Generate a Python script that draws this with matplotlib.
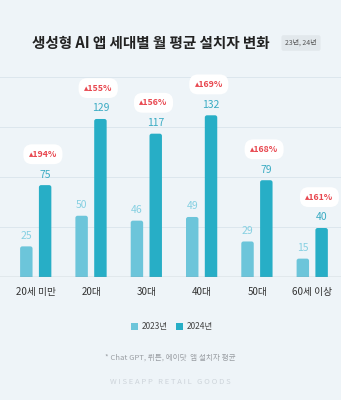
import matplotlib.pyplot as plt
from matplotlib.patches import FancyBboxPatch

plt.rcParams['font.family'] = ['Noto Sans CJK KR', 'DejaVu Sans']

ages = ['20세 미만', '20대', '30대', '40대', '50대', '60세 이상']
y2023 = [25, 50, 46, 49, 29, 15]
y2024 = [75, 129, 117, 132, 79, 40]
growth = ['194%', '155%', '156%', '169%', '168%', '161%']

BG = '#eef4f8'
C23 = '#6cc5da'
C24 = '#27aec6'
RED = '#e8474f'


def rounded_bar(ax, x, h, w, color):
    # a bar with softly rounded top corners; the bottom is pushed under the axis
    px_x = 55.3
    px_y = 1.225
    p = FancyBboxPatch((x - w / 2, -5), w, h + 5,
                       boxstyle='round,pad=0,rounding_size=%f' % (2.2 / px_x),
                       mutation_aspect=px_x / px_y,
                       fc=color, ec='none', zorder=3)
    ax.add_patch(p)


fig = plt.figure(figsize=(3.41, 4.0), dpi=100)
fig.patch.set_facecolor(BG)
ax = fig.add_axes([0, (400 - 277) / 400, 1, 200 / 400])
ax.set_facecolor(BG)

ymax = 200 / 1.225
ax.set_ylim(0, ymax)
ax.set_xlim(-36 / 55.3, (341 - 36) / 55.3)
for k in range(1, 5):
    ax.axhline(ymax * k / 4, color='#dce6ed', lw=0.7, zorder=1)
ax.axhline(0, color='#8c959c', lw=0.9, zorder=4)

w = 0.225
for i in range(len(ages)):
    x23 = i - 0.175
    x24 = i + 0.165
    rounded_bar(ax, x23, y2023[i], w, C23)
    rounded_bar(ax, x24, y2024[i], w, C24)
    ax.annotate(str(y2023[i]), (x23, y2023[i]), xytext=(0, 4), textcoords='offset points',
                ha='center', va='bottom', fontsize=7.5, color='#86d0e2')
    ax.annotate(str(y2024[i]), (x24, y2024[i]), xytext=(0, 4), textcoords='offset points',
                ha='center', va='bottom', fontsize=7.5, color='#3aabc3')
    ax.annotate('▴' + growth[i], (x24 - 0.04, y2024[i]), xytext=(0, 19), textcoords='offset points',
                ha='center', va='bottom', fontsize=6.3, color=RED, fontweight='bold',
                bbox=dict(boxstyle='round,pad=0.62,rounding_size=1.0', fc='white', ec='none'),
                zorder=5)
    ax.text(i, -8, ages[i], ha='center', va='top', fontsize=7, color='#333333')

ax.axis('off')

fig.text(151 / 341, 1 - 43 / 400, '생성형 AI 앱 세대별 월 평균 설치자 변화', ha='center', va='center',
         fontsize=10.5, fontweight='bold', color='#222222')
fig.text(301 / 341, 1 - 43 / 400, '23년, 24년', ha='center', va='center', fontsize=5,
         color='#555555',
         bbox=dict(boxstyle='round,pad=0.55,rounding_size=0.3', fc='#e2e8ec', ec='none'))

# legend
ly = 1 - 326 / 400
fig.patches.append(FancyBboxPatch((131 / 341, ly - 3.5 / 400), 7 / 341, 7 / 400,
                                  boxstyle='square,pad=0', fc=C23, ec='none',
                                  transform=fig.transFigure, figure=fig))
fig.text(142 / 341, ly, '2023년', ha='left', va='center', fontsize=6, color='#444444')
fig.patches.append(FancyBboxPatch((176 / 341, ly - 3.5 / 400), 7 / 341, 7 / 400,
                                  boxstyle='square,pad=0', fc=C24, ec='none',
                                  transform=fig.transFigure, figure=fig))
fig.text(187 / 341, ly, '2024년', ha='left', va='center', fontsize=6, color='#444444')

fig.text(170 / 341, 1 - 358 / 400, '* Chat GPT, 뤼튼, 에이닷  앱 설치자 평균', ha='center', va='center',
         fontsize=5.5, color='#9a9ea3')
fig.text(170 / 341, 1 - 382 / 400, 'W I S E A P P   R E T A I L   G O O D S', ha='center', va='center',
         fontsize=5.5, color='#cdd4da')

fig.savefig('out.png', dpi=100, facecolor=BG)
